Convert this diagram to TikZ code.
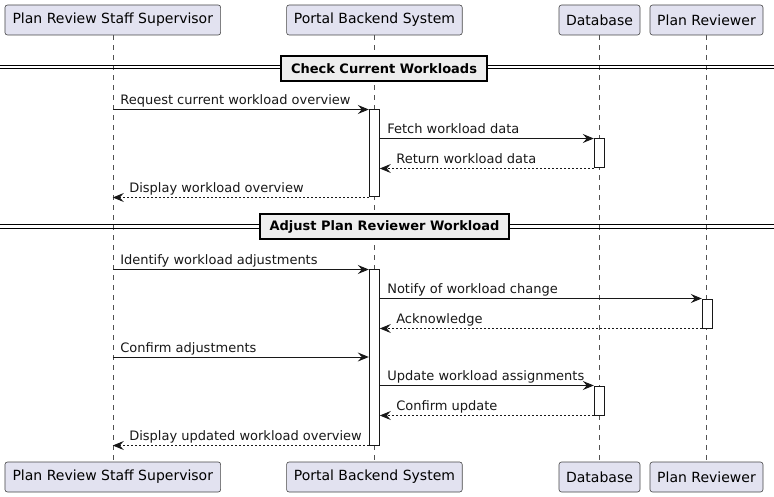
\documentclass[tikz,border=0pt]{standalone}
\usepackage{fontspec}
\setmainfont{DejaVu Sans}
\usetikzlibrary{arrows.meta}
\definecolor{partfill}{HTML}{E2E2F0}
\definecolor{partline}{HTML}{181818}
\definecolor{divfill}{HTML}{EEEEEE}
\begin{document}
\begin{tikzpicture}[x=1pt,y=-1pt,
  font=\fontsize{13}{15}\selectfont,
  part/.style={draw=partline!80, fill=partfill, line width=0.6pt, rounded corners=2.5pt, minimum height=30pt, inner sep=0pt, font=\fontsize{14}{16}\selectfont},
  life/.style={draw=partline!75, line width=0.6pt, dash pattern=on 5pt off 5pt},
  act/.style={draw=partline, fill=white, line width=1pt, minimum width=10pt, inner sep=0pt},
  msg/.style={draw=partline, line width=1pt, -{Stealth[length=11pt,width=9pt,inset=4pt]}},
  ret/.style={msg, dash pattern=on 2pt off 2pt},
  lblR/.style={pos=0, anchor=base west, xshift=7pt, yshift=5pt, inner sep=0pt, text=partline},
  lblL/.style={pos=1, anchor=base west, xshift=16pt, yshift=5pt, inner sep=0pt, text=partline},
  divline/.style={draw=black, line width=1pt},
  divbox/.style={draw=black, fill=divfill, line width=1.5pt, minimum height=25pt, inner sep=0pt, font=\fontsize{13}{15}\selectfont\bfseries}
]
\useasboundingbox (0,0) rectangle (774,497);

% participants
\node[part, minimum width=215.7pt] (p1t) at (112.8,20) {Plan Review Staff Supervisor};
\node[part, minimum width=175.6pt] (p2t) at (374.4,20) {Portal Backend System};
\node[part, minimum width=81pt] (p3t) at (599.5,20) {Database};
\node[part, minimum width=113pt] (p4t) at (706.5,20) {Plan Reviewer};
\node[part, minimum width=215.7pt] (p1b) at (112.8,477) {Plan Review Staff Supervisor};
\node[part, minimum width=175.6pt] (p2b) at (374.4,477) {Portal Backend System};
\node[part, minimum width=81pt] (p3b) at (599.5,477) {Database};
\node[part, minimum width=113pt] (p4b) at (706.5,477) {Plan Reviewer};

% lifelines
\draw[life] (p1t.south) -- (p1b.north);
\draw[life] (p2t.south) -- (p2b.north);
\draw[life] (p3t.south) -- (p3b.north);
\draw[life] (p4t.south) -- (p4b.north);

% dividers
\coordinate (dl1a) at (0,65.2);
\coordinate (dr1a) at (774,65.2);
\coordinate (dl1b) at (0,68.4);
\coordinate (dr1b) at (774,68.4);
\coordinate (dl2a) at (0,224.9);
\coordinate (dr2a) at (774,224.9);
\coordinate (dl2b) at (0,228.1);
\coordinate (dr2b) at (774,228.1);
\draw[divline] (dl1a) -- (dr1a);
\draw[divline] (dl1b) -- (dr1b);
\draw[divline] (dl2a) -- (dr2a);
\draw[divline] (dl2b) -- (dr2b);
\node[divbox, minimum width=206pt] (div1) at (384,68.3) {Check Current Workloads};
\node[divbox, minimum width=249pt] (div2) at (384.5,226.7) {Adjust Plan Reviewer Workload};

% activations
\node[act, minimum height=87pt] (a1) at (374.3,153.5) {};
\node[act, minimum height=29pt] (d1) at (599.3,153.5) {};
\node[act, minimum height=175pt] (a2) at (374.3,357.5) {};
\node[act, minimum height=29pt] (r1) at (707.3,313.5) {};
\node[act, minimum height=29pt] (d2) at (599.3,400.5) {};
\coordinate (c1) at (0,357);

% messages
\draw[msg] (a1.north west -| p1t.south) -- (a1.north west) node[lblR] {Request current workload overview};
\draw[msg] (d1.north west -| a1.east) -- (d1.north west) node[lblR] {Fetch workload data};
\draw[ret] (d1.south west) -- (d1.south west -| a1.east) node[lblL] {Return workload data};
\draw[ret] (a1.south west) -- (a1.south west -| p1t.south) node[lblL] {Display workload overview};

\draw[msg] (a2.north west -| p1t.south) -- (a2.north west) node[lblR] {Identify workload adjustments};
\draw[msg] (r1.north west -| a2.east) -- (r1.north west) node[lblR] {Notify of workload change};
\draw[ret] (r1.south west) -- (r1.south west -| a2.east) node[lblL] {Acknowledge};
\draw[msg] (c1 -| p1t.south) -- (c1 -| a2.west) node[lblR] {Confirm adjustments};
\draw[msg] (d2.north west -| a2.east) -- (d2.north west) node[lblR] {Update workload assignments};
\draw[ret] (d2.south west) -- (d2.south west -| a2.east) node[lblL] {Confirm update};
\draw[ret] (a2.south west) -- (a2.south west -| p1t.south) node[lblL] {Display updated workload overview};
\end{tikzpicture}
\end{document}
